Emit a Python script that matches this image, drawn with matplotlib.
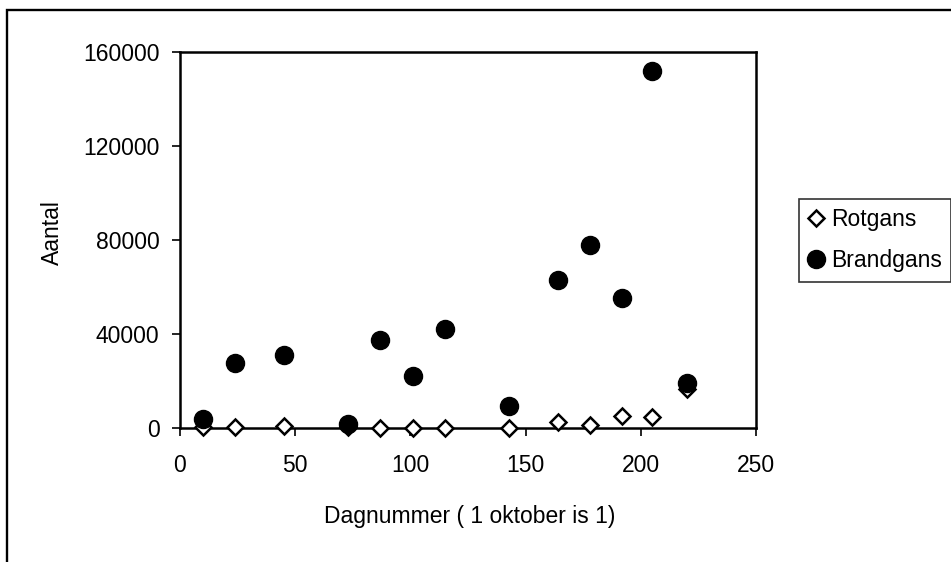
import matplotlib.pyplot as plt
from matplotlib.patches import Rectangle

plt.rcParams['font.family'] = ['Liberation Sans', 'DejaVu Sans']

# dagnummer (1 oktober is 1)
dag_rot = [10, 24, 45, 73, 87, 101, 115, 143, 164, 178, 192, 205, 220]
rotgans = [500, 600, 700, 500, 0, 0, 0, 0, 2400, 1300, 5000, 4700, 16500]

dag_brand = [10, 24, 45, 73, 87, 101, 115, 143, 164, 178, 192, 205, 220]
brandgans = [3700, 27800, 30900, 1600, 37600, 22100, 42100, 9200, 62800, 77800, 55500, 152000, 19200]

xticks = [0, 50, 100, 150, 200, 250]
yticks = [0, 40000, 80000, 120000, 160000]

W, H = 951, 562
fs = 16.5
fig = plt.figure(figsize=(W / 100, H / 100), dpi=100)
ax = fig.add_axes([180 / W, 1 - 428 / H, 576 / W, 376 / H])

ax.plot(dag_rot, rotgans, linestyle='none', marker='D', markersize=8.5,
        markerfacecolor='white', markeredgecolor='black', markeredgewidth=1.8,
        label='Rotgans', clip_on=False, zorder=3)
ax.plot(dag_brand, brandgans, linestyle='none', marker='o', markersize=13,
        color='black', label='Brandgans', clip_on=False, zorder=3)

ax.set_xlim(0, 250)
ax.set_ylim(0, 160000)
ax.set_xticks(xticks)
ax.set_yticks(yticks)
ax.set_xticklabels([str(t) for t in xticks])
ax.set_yticklabels([str(t) for t in yticks])
ax.tick_params(direction='out', length=5.8, width=1.2, labelsize=fs, colors='black')
ax.tick_params(axis='x', pad=13)
ax.tick_params(axis='y', pad=9)
for s in ax.spines.values():
    s.set_linewidth(1.8)
    s.set_color('black')

fig.text(470 / W, 1 - 517 / H, 'Dagnummer ( 1 oktober is 1)', ha='center', va='center', fontsize=fs)
fig.text(52 / W, 1 - 233 / H, 'Aantal', ha='center', va='center', rotation=90, fontsize=fs)

leg = fig.legend(loc='upper left', bbox_to_anchor=(799 / W, 1 - 199 / H), fontsize=fs,
                 frameon=True, fancybox=False, edgecolor='black', handlelength=0.7,
                 handletextpad=0.3, borderpad=0.4, labelspacing=0.8, borderaxespad=0)
leg.get_frame().set_linewidth(1.2)

# rand om de hele grafiek
fig.patches.append(Rectangle((7 / W, -0.2), 1.2, 1 - 10 / H + 0.2, transform=fig.transFigure,
                             fill=False, edgecolor='black', linewidth=1.7))

fig.savefig('out.png', dpi=100)
